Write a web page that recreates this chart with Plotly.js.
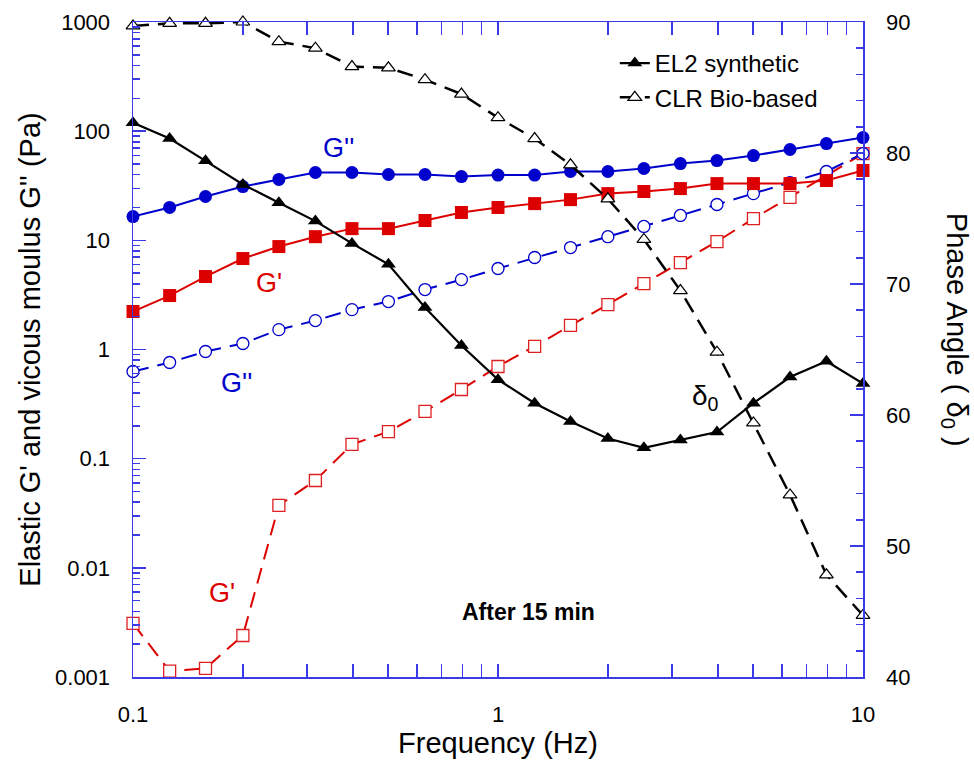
<!DOCTYPE html>
<html>
<head>
<meta charset="utf-8">
<script src="https://cdn.plot.ly/plotly-3.0.1.min.js"></script>
<style>html,body{margin:0;padding:0;background:#fff;}#chart{width:974px;height:767px;}</style>
</head>
<body>
<div id="chart"></div>
<script>
// Frequency (Hz)
const freq = [0.1, 0.126, 0.158, 0.2, 0.251, 0.316, 0.398, 0.501, 0.631, 0.794, 1, 1.26, 1.58, 2, 2.51, 3.16, 3.98, 5.01, 6.31, 7.94, 10];
// EL2 synthetic
const el2Gp  = [2.23, 3.12, 4.66, 6.81, 8.77, 10.8, 12.8, 12.8, 15.2, 18.0, 20.0, 21.7, 23.6, 26.8, 28.0, 29.8, 33.1, 33.1, 33.1, 35.3, 43.6];
const el2Gpp = [16.5, 20.0, 25.2, 31.1, 36.1, 41.8, 41.8, 40.1, 40.1, 38.4, 39.6, 39.6, 42.7, 42.7, 45.5, 50.5, 53.8, 59.8, 67.9, 77.0, 87.4];
const el2Phase = [82.3, 81.1, 79.4, 77.6, 76.2, 74.8, 73.1, 71.5, 68.2, 65.3, 62.7, 60.9, 59.5, 58.2, 57.5, 58.1, 58.7, 60.9, 62.9, 64.1, 62.4];
// CLR Bio-based
const clrGp  = [0.0031, 0.00113, 0.0012, 0.0024, 0.0373, 0.0631, 0.135, 0.177, 0.271, 0.43, 0.699, 1.07, 1.66, 2.58, 4.02, 6.26, 9.75, 15.8, 24.7, 39.2, 62.4];
const clrGpp = [0.629, 0.760, 0.959, 1.135, 1.52, 1.84, 2.32, 2.75, 3.54, 4.37, 5.52, 6.96, 8.59, 10.8, 13.4, 16.9, 21.3, 26.8, 33.8, 42.7, 62.4];
const clrPhase = [89.7, 89.9, 89.9, 90.0, 88.5, 88.0, 86.6, 86.5, 85.6, 84.5, 82.7, 81.1, 79.1, 76.5, 73.4, 69.5, 64.8, 59.4, 53.9, 47.8, 44.7];

const xTickVals = [0.1, 1, 10];
const xTickText = ['0.1', '1', '10'];
const yTickVals = [0.001, 0.01, 0.1, 1, 10, 100, 1000];
const yTickText = ['0.001', '0.01', '0.1', '1', '10', '100', '1000'];

const FONT = 'Liberation Sans, Arial, sans-serif';
const AX = '#3a3ae8';
const RED = '#dd0000';
const BLUE = '#0000cc';

function minorLog(lo, hi) {
  const v = [];
  for (let e = lo; e < hi; e++) for (let m = 2; m <= 9; m++) v.push(m * Math.pow(10, e));
  return v;
}

const DASH = '16px,9px';

const traces = [
  {x: freq, y: clrGp, mode: 'lines+markers', showlegend: false, cliponaxis: false,
   line: {color: RED, width: 2, dash: DASH},
   marker: {symbol: 'square', size: 12, color: '#fff', line: {color: '#e02020', width: 1.3}}},
  {x: freq, y: clrGpp, mode: 'lines+markers', showlegend: false, cliponaxis: false,
   line: {color: BLUE, width: 2, dash: DASH},
   marker: {symbol: 'circle', size: 12, color: '#fff', line: {color: BLUE, width: 1.3}}},
  {x: freq, y: el2Gp, mode: 'lines+markers', showlegend: false, cliponaxis: false,
   line: {color: RED, width: 2},
   marker: {symbol: 'square', size: 13, color: RED}},
  {x: freq, y: el2Gpp, mode: 'lines+markers', showlegend: false, cliponaxis: false,
   line: {color: BLUE, width: 2},
   marker: {symbol: 'circle', size: 13, color: BLUE}},
  {x: freq, y: clrPhase, yaxis: 'y2', mode: 'lines+markers', name: 'CLR Bio-based', legendrank: 2, cliponaxis: false,
   line: {color: '#000', width: 2.5, dash: DASH},
   marker: {symbol: 'triangle-up', size: 12, color: '#fff', line: {color: '#000', width: 1.2}}},
  {x: freq, y: el2Phase, yaxis: 'y2', mode: 'lines+markers', name: 'EL2 synthetic', legendrank: 1, cliponaxis: false,
   line: {color: '#000', width: 2.2},
   marker: {symbol: 'triangle-up', size: 13, color: '#000'}}
];

const axCommon = {
  showgrid: false, zeroline: false, showline: true, linecolor: AX, linewidth: 1.5,
  ticks: 'inside', ticklen: 13, tickwidth: 1.5, tickcolor: AX,
  tickfont: {family: FONT, size: 22, color: '#000'}
};

const layout = {
  width: 974, height: 767,
  margin: {l: 133, r: 111, t: 22, b: 90},
  paper_bgcolor: '#fff', plot_bgcolor: '#fff',
  font: {family: FONT, color: '#000'},
  xaxis: Object.assign({}, axCommon, {
    type: 'log', range: [-1, 1], tickmode: 'array', tickvals: xTickVals, ticktext: xTickText,
    mirror: 'allticks', ticklabelstandoff: 17,
    minor: {tickmode: 'array', tickvals: minorLog(-1, 1), ticks: 'inside', ticklen: 7, tickwidth: 1.5, tickcolor: AX, showgrid: false},
    title: {text: 'Frequency (Hz)', font: {family: FONT, size: 29, color: '#000'}, standoff: 6}
  }),
  yaxis: Object.assign({}, axCommon, {
    type: 'log', range: [-3, 3], tickmode: 'array', tickvals: yTickVals, ticktext: yTickText,
    ticklabelstandoff: 17,
    minor: {tickmode: 'array', tickvals: minorLog(-3, 3), ticks: 'inside', ticklen: 7, tickwidth: 1.5, tickcolor: AX, showgrid: false},
    title: {text: "Elastic G' and vicous moulus G'' (Pa)", font: {family: FONT, size: 29, color: '#000'}, standoff: 6}
  }),
  yaxis2: Object.assign({}, axCommon, {
    overlaying: 'y', side: 'right', range: [40, 90], tick0: 40, dtick: 10,
    ticklabelstandoff: 17,
    minor: {dtick: 2, ticks: 'inside', ticklen: 7, tickwidth: 1.5, tickcolor: AX, showgrid: false}
  }),
  legend: {x: 0.660, y: 0.971, xanchor: 'left', yanchor: 'top', bgcolor: 'rgba(0,0,0,0)',
           font: {family: FONT, size: 24, color: '#000'}, itemwidth: 30, tracegroupgap: 0},
  annotations: [
    {xref: 'paper', yref: 'paper', x: 0.281, y: 0.808, xanchor: 'center', yanchor: 'middle', text: "G''", showarrow: false, font: {family: FONT, size: 27, color: BLUE}},
    {xref: 'paper', yref: 'paper', x: 0.186, y: 0.602, xanchor: 'center', yanchor: 'middle', text: "G'", showarrow: false, font: {family: FONT, size: 27, color: RED}},
    {xref: 'paper', yref: 'paper', x: 0.142, y: 0.449, xanchor: 'center', yanchor: 'middle', text: "G''", showarrow: false, font: {family: FONT, size: 27, color: BLUE}},
    {xref: 'paper', yref: 'paper', x: 0.122, y: 0.128, xanchor: 'center', yanchor: 'middle', text: "G'", showarrow: false, font: {family: FONT, size: 27, color: RED}},
    {xref: 'paper', yref: 'paper', x: 0.784, y: 0.426, xanchor: 'center', yanchor: 'middle', text: 'δ<sub>0</sub>', showarrow: false, font: {family: FONT, size: 28, color: '#000'}},
    {xref: 'paper', yref: 'paper', x: 0.542, y: 0.099, xanchor: 'center', yanchor: 'middle', text: '<b>After 15 min</b>', showarrow: false, font: {family: FONT, size: 23, color: '#000'}},
    {xref: 'paper', yref: 'paper', x: 1.126, y: 0.53, xanchor: 'center', yanchor: 'middle', text: 'Phase Angle ( δ<sub>0</sub> )', textangle: 90, showarrow: false, font: {family: FONT, size: 29, color: '#000'}}
  ]
};

Plotly.newPlot('chart', traces, layout, {displayModeBar: false, staticPlot: true});
</script>
</body>
</html>
